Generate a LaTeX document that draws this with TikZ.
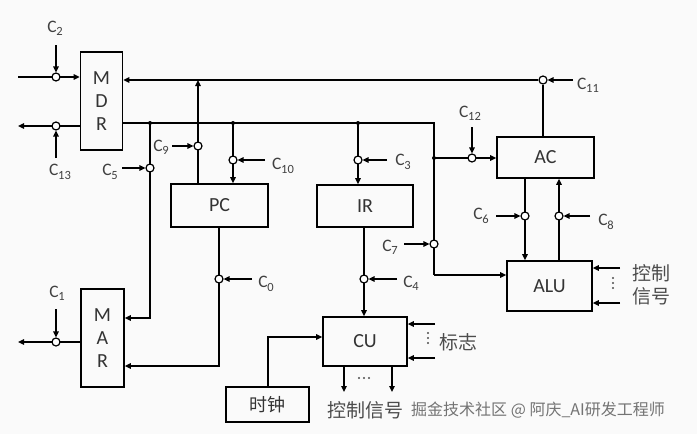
\documentclass[tikz,border=0pt]{standalone}
\usepackage{fontspec}
\setmainfont{Carlito}
\newfontfamily\cjk{Noto Sans CJK SC}
\usetikzlibrary{arrows.meta,backgrounds}
\newcommand\cc[1]{C\kern-0.2pt\raisebox{-0.4ex}{\fontsize{12.5}{12.5}\selectfont #1}}
\begin{document}
\begin{tikzpicture}[x=1pt,y=-1pt,
 wire/.style={line width=1.7pt},
 arr/.style={wire,-{Triangle[length=6pt,width=5.5pt]}},
 box/.style={draw,line width=1.7pt,inner sep=0pt,font=\fontsize{20}{23}\selectfont,text=black!80},
 sw/.style={circle,draw,fill=white,line width=1.2pt,minimum size=8pt,inner sep=0pt},
 dot/.style={circle,fill=black,minimum size=4pt,inner sep=0pt},
 pt/.style={fill=black!70},
 lab/.style={font=\fontsize{17.5}{17.5}\selectfont,text=black!75,inner sep=0pt},
 cn/.style={font=\cjk\fontsize{19}{23}\selectfont,text=black!70,inner sep=0pt}]
\useasboundingbox (0,0) rectangle (697,434);
% boxes
\node[box,minimum width=42pt,minimum height=98pt,align=center] (MDR) at (101.5,101) {M\\D\\R};
\node[box,minimum width=43pt,minimum height=98pt,align=center] (MAR) at (102.5,338) {M\\A\\R};
\node[box,minimum width=97pt,minimum height=43pt] (PC) at (219.5,205.5) {PC};
\node[box,minimum width=96pt,minimum height=42pt] (IR) at (365,206) {IR};
\node[box,minimum width=97pt,minimum height=41pt] (AC) at (545.5,157.5) {AC};
\node[box,minimum width=85pt,minimum height=50pt] (ALU) at (549.5,286) {ALU};
\node[box,minimum width=84pt,minimum height=49pt] (CU) at (365,341.5) {CU};
\node[box,minimum width=83pt,minimum height=35pt,font=\cjk\fontsize{18}{18}\selectfont] (CLK) at (267.5,404.5) {时钟};
% switches
\node[sw] (c2) at (56,77) {};
\node[sw] (c13) at (56,126) {};
\node[sw] (c1) at (56,342) {};
\node[sw] (c5) at (150,168) {};
\node[sw] (c9) at (198,146) {};
\node[sw] (c10) at (233,160) {};
\node[sw] (c3) at (358,160) {};
\node[sw] (c12) at (472,158) {};
\node[sw] (c11) at (543,80) {};
\node[sw] (c6) at (525,216) {};
\node[sw] (c8) at (559,216) {};
\node[sw] (c7) at (434,244) {};
\node[sw] (c0) at (219,279) {};
\node[sw] (c4) at (364,279) {};
% coordinates
\coordinate (inL) at (18,77);
\coordinate (outL) at (18,126);
\coordinate (marL) at (18,342);
\coordinate (j1) at (150,123);
\coordinate (j2) at (233,123);
\coordinate (j3) at (358,123);
\coordinate (j4) at (434,123);
\coordinate (j5) at (434,158);
\coordinate (j6) at (434,275);
\coordinate (k1) at (150,318);
\coordinate (k2) at (198,80);
\coordinate (k3) at (219,366);
\coordinate (k4) at (268,337);
\coordinate (o1) at (344,392);
\coordinate (o2) at (392,392);
\coordinate (f1) at (435,324);
\coordinate (f2) at (435,358);
\coordinate (g1) at (620,268);
\coordinate (g2) at (620,303);
\coordinate (a2) at (56,45);
\coordinate (a13) at (56,158);
\coordinate (a1) at (56,309);
\coordinate (a5) at (122,168);
\coordinate (a9) at (172,146);
\coordinate (a10) at (265,160);
\coordinate (a3) at (387,160);
\coordinate (a12) at (472,127);
\coordinate (a11) at (573,80);
\coordinate (a6) at (496,216);
\coordinate (a8) at (590,216);
\coordinate (a7) at (404,244);
\coordinate (a0) at (252,279);
\coordinate (a4) at (397,279);
\begin{scope}[on background layer]
\fill[gray!4] (0,0) rectangle (697,434);
\draw[arr] (c11) -- (c11 -| MDR.east);
\draw[wire] (c11) -- (c11 |- AC.north);
\draw[wire] (MDR.east |- j1) -- (j4) -- (j6);
\draw[arr] (j6) -- (j6 -| ALU.west);
\draw[arr] (j1) -- (k1) -- (k1 -| MAR.east);
\draw[arr] (j2) -- (j2 |- PC.north);
\draw[arr] (j3) -- (j3 |- IR.north);
\draw[arr] (k2 |- PC.north) -- (k2);
\draw[arr] (j5) -- (j5 -| AC.west);
\draw[arr] (k3 |- PC.south) -- (k3) -- (k3 -| MAR.east);
\draw[arr] (c4 |- IR.south) -- (c4 |- CU.north);
\draw[arr] (c6 |- AC.south) -- (c6 |- ALU.north);
\draw[arr] (c8 |- ALU.north) -- (c8 |- AC.south);
\draw[arr] (k4 |- CLK.north) -- (k4) -- (k4 -| CU.west);
\draw[arr] (o1 |- CU.south) -- (o1);
\draw[arr] (o2 |- CU.south) -- (o2);
\draw[arr] (f1) -- (f1 -| CU.east);
\draw[arr] (f2) -- (f2 -| CU.east);
\draw[arr] (g1) -- (g1 -| ALU.east);
\draw[arr] (g2) -- (g2 -| ALU.east);
\draw[arr] (inL) -- (inL -| MDR.west);
\draw[arr] (MDR.west |- outL) -- (outL);
\draw[arr] (MAR.west |- marL) -- (marL);
\end{scope}
% control arrows
\foreach \a/\c in {a2/c2,a13/c13,a1/c1,a5/c5,a9/c9,a10/c10,a3/c3,a12/c12,a11/c11,a6/c6,a8/c8,a7/c7,a0/c0,a4/c4}
  \draw[arr] (\a) -- (\c);
% junction dots
\foreach \j in {j1,j2,j3,j5} \node[dot] at (\j) {};
% labels
\node[lab] (L2) at (55,28) {\cc{2}};
\node[lab] (L13) at (60,172) {\cc{13}};
\node[lab] (L1) at (57,293) {\cc{1}};
\node[lab] (L5) at (110,172) {\cc{5}};
\node[lab] (L9) at (161,147) {\cc{9}};
\node[lab] (L10) at (283,166) {\cc{10}};
\node[lab] (L3) at (403,162) {\cc{3}};
\node[lab] (L12) at (470,113) {\cc{12}};
\node[lab] (L11) at (588,85) {\cc{11}};
\node[lab] (L6) at (481,216) {\cc{6}};
\node[lab] (L8) at (606,222) {\cc{8}};
\node[lab] (L7) at (390,247) {\cc{7}};
\node[lab] (L4) at (411,283) {\cc{4}};
\node[lab] (L0) at (266,284) {\cc{0}};
% ellipsis dots
\foreach \y in {278,283,288} \fill[pt] (613,\y) circle (1.1pt);
\foreach \y in {333,338,343} \fill[pt] (428,\y) circle (1.1pt);
\foreach \x in {359,364,369} \fill[pt] (\x,378) circle (1.1pt);
% chinese texts
\node[cn,align=left] (ctl1) at (651,285) {控制\\信号};
\node[cn] (flag) at (458,342) {标志};
\node[cn] (ctl2) at (365,410) {控制信号};
\node[font=\cjk\fontsize{16}{16}\selectfont,text=black!55,anchor=west,inner sep=0pt] (wm) at (411,410) {掘金技术社区 @ 阿庆\_AI研发工程师};
\end{tikzpicture}
\end{document}
